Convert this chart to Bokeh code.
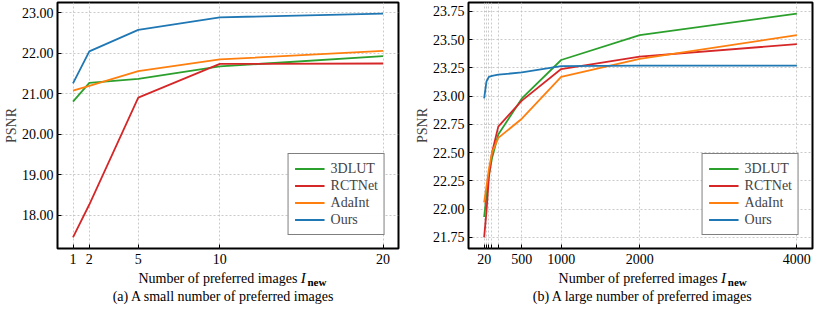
from bokeh.plotting import figure
from bokeh.models import Range1d, FixedTicker, PrintfTickFormatter, Legend, LegendItem
from bokeh.layouts import row, column
from bokeh.core.properties import value
from bokeh.embed import file_html
from bokeh.resources import INLINE

# ---------------- data ----------------
series_names = ["3DLUT", "RCTNet", "AdaInt", "Ours"]
series_colors = ["#2ca02c", "#d62728", "#ff7f0e", "#1f77b4"]

x_small = [1, 2, 5, 10, 20]
lut_small = [20.81, 21.27, 21.37, 21.68, 21.93]
rct_small = [17.46, 18.27, 20.91, 21.74, 21.75]
ada_small = [21.08, 21.20, 21.56, 21.85, 22.06]
ours_small = [21.26, 22.05, 22.58, 22.89, 22.98]

x_large = [20, 50, 80, 120, 200, 500, 1000, 2000, 4000]
lut_large = [21.93, 22.12, 22.30, 22.45, 22.66, 22.98, 23.32, 23.54, 23.73]
rct_large = [21.75, 21.98, 22.28, 22.50, 22.73, 22.96, 23.24, 23.35, 23.46]
ada_large = [22.06, 22.20, 22.35, 22.50, 22.63, 22.80, 23.17, 23.33, 23.54]
ours_large = [22.98, 23.13, 23.17, 23.18, 23.19, 23.21, 23.265, 23.27, 23.27]

xticks_small = [1, 2, 5, 10, 20]
xticks_large = [20, 50, 80, 120, 200, 500, 1000, 2000, 4000]
xlabels_hidden_large = [50, 80, 120, 200]
yticks_small = [18, 19, 20, 21, 22, 23]
yticks_large = [21.75, 22.0, 22.25, 22.5, 22.75, 23.0, 23.25, 23.5, 23.75]

captions = ["(a) A small number of preferred images", "(b) A large number of preferred images"]
xlabel_text = "Number of preferred images"
xlabel_var = "I"
xlabel_sub = "new"
ylabel_text = "PSNR"

FONT = "Liberation Serif"
H_TOP = 268
H_TXT = 36


def make_plot(xs, ys_list, xticks, hidden, yticks, width, min_left, min_right):
    xmin, xmax = min(xs), max(xs)
    xpad = 0.05 * (xmax - xmin)
    allys = [v for ys in ys_list for v in ys]
    ymin, ymax = min(allys), max(allys)
    ypad = 0.05 * (ymax - ymin)
    p = figure(width=width, height=H_TOP, output_backend="svg", toolbar_location=None,
               x_range=Range1d(xmin - xpad, xmax + xpad),
               y_range=Range1d(ymin - ypad, ymax + ypad))
    p.min_border_left = min_left
    p.min_border_right = min_right
    p.min_border_top = 2
    p.min_border_bottom = 20
    p.outline_line_color = "black"
    p.outline_line_width = 2
    p.background_fill_color = "white"
    p.border_fill_color = "white"

    p.xaxis.ticker = FixedTicker(ticks=xticks)
    p.yaxis.ticker = FixedTicker(ticks=yticks)
    p.yaxis.formatter = PrintfTickFormatter(format="%.2f")
    if hidden:
        p.xaxis.major_label_overrides = {v: "" for v in hidden}
    for ax in (p.xaxis, p.yaxis):
        ax.axis_line_color = None
        ax.major_tick_in = 4
        ax.major_tick_out = 0
        ax.minor_tick_line_color = None
        ax.major_tick_line_color = "black"
        ax.major_label_text_font = FONT
        ax.major_label_text_font_size = "14px"
        ax.major_label_text_color = "black"
    p.yaxis.major_label_standoff = 4
    p.xaxis.major_label_standoff = 5
    p.yaxis.axis_label = ylabel_text
    p.yaxis.axis_label_text_font = FONT
    p.yaxis.axis_label_text_font_size = "14px"
    p.yaxis.axis_label_text_font_style = "normal"
    p.yaxis.axis_label_standoff = 0

    for g in (p.xgrid, p.ygrid):
        g.grid_line_color = "#bdbdbd"
        g.grid_line_dash = "2 2"
        g.grid_line_width = 0.8

    items = []
    for name, color, ys in zip(series_names, series_colors, ys_list):
        r = p.line(xs, ys, line_color=color, line_width=1.8)
        items.append(LegendItem(label=name, renderers=[r]))
    legend = Legend(items=items, location="bottom_right")
    legend.border_line_color = "black"
    legend.border_line_width = 1.5
    legend.label_text_font = FONT
    legend.label_text_font_size = "14px"
    legend.glyph_width = 30
    legend.glyph_height = 17
    legend.label_height = 17
    legend.spacing = 0
    legend.padding = 6
    legend.margin = 13
    legend.label_standoff = 6
    p.add_layout(legend)
    return p


def make_text(width, min_left, min_right, caption):
    t = figure(width=width, height=H_TXT, output_backend="svg", toolbar_location=None,
               x_range=Range1d(0, width), y_range=Range1d(H_TXT, 0),
               x_axis_type=None, y_axis_type=None, min_border=0)
    t.grid.visible = False
    t.outline_line_color = None
    t.background_fill_color = "white"
    t.border_fill_color = "white"
    fc = (min_left + width - min_right) / 2
    t.text(x=[fc + 62], y=[10], text=[xlabel_text], text_align="right", text_baseline="middle",
           text_font=value(FONT), text_font_size="14px", text_color="black")
    t.text(x=[fc + 66], y=[9], text=[xlabel_var], text_align="left", text_baseline="middle",
           text_font=value(FONT), text_font_size="15px", text_font_style="italic", text_color="black")
    t.text(x=[fc + 74], y=[13], text=[xlabel_sub], text_align="left", text_baseline="middle",
           text_font=value(FONT), text_font_size="11px", text_font_style="bold", text_color="black")
    t.text(x=[fc - 26], y=[28], text=[caption], text_align="center", text_baseline="middle",
           text_font=value(FONT), text_font_size="14px", text_color="black")
    return t


W1, L1, R1 = 408, 52, 10
W2, L2, R2 = 406, 60, 2
p1 = make_plot(x_small, [lut_small, rct_small, ada_small, ours_small], xticks_small, None,
               yticks_small, W1, L1, R1)
p2 = make_plot(x_large, [lut_large, rct_large, ada_large, ours_large], xticks_large,
               xlabels_hidden_large, yticks_large, W2, L2, R2)
t1 = make_text(W1, L1, R1, captions[0])
t2 = make_text(W2, L2, R2, captions[1])

layout = row(column(p1, t1), column(p2, t2))
open("out.html", "w").write(file_html(layout, INLINE))
